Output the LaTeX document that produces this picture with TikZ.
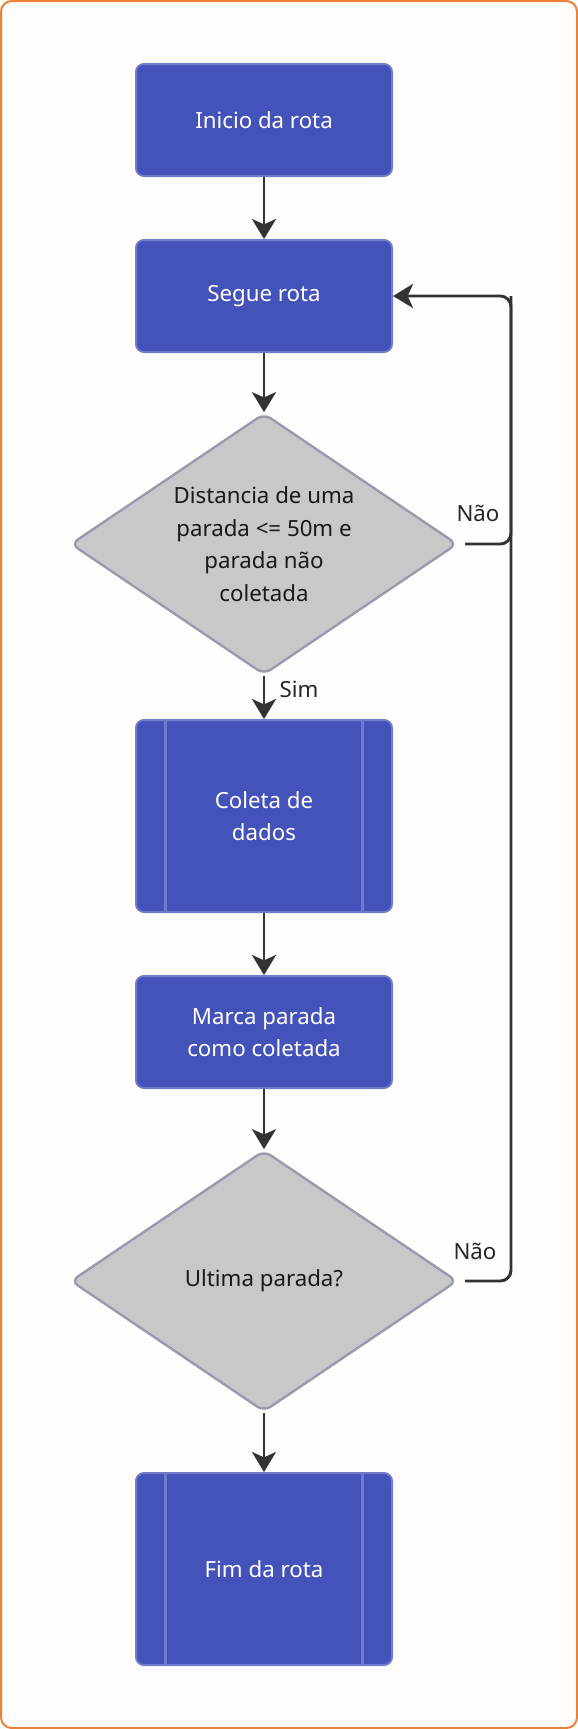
\documentclass[tikz,border=0pt]{standalone}
\usepackage{fontspec}
\setmainfont{Noto Sans}
\usetikzlibrary{arrows.meta,shapes.geometric,positioning}
\definecolor{boxfill}{HTML}{4453B9}
\definecolor{boxline}{HTML}{6F7BCB}
\definecolor{decfill}{HTML}{C8C8C8}
\definecolor{decline}{HTML}{9A9AAE}
\definecolor{flowline}{HTML}{333333}
\definecolor{frameline}{HTML}{E8823A}
\definecolor{framefill}{HTML}{FFFDFB}
\tikzset{>={Stealth[inset=4pt,length=15pt,width=18pt]}}
\tikzset{
    passo/.style={draw=boxline, fill=boxfill, line width=1.5pt, rounded corners=6pt,
        minimum width=192pt, minimum height=84pt, text=white, align=center,
        font=\fontsize{16.7}{24.5}\selectfont},
    subrotina/.style={passo, minimum height=144pt},
    decisao/.style={diamond, draw=decline, fill=decfill, line width=1.8pt, rounded corners=6pt,
        minimum width=290pt, minimum height=196pt, shape aspect=1.5, inner sep=0pt,
        align=center, text=black!90, font=\fontsize{16.7}{24.5}\selectfont},
    fluxo/.style={->, draw=flowline, line width=2.2pt},
    rotulo/.style={text=black!85, font=\fontsize{16.7}{20}\selectfont}
}

\begin{document}
\begin{tikzpicture}[x=0.75pt, y=-0.75pt]
    \useasboundingbox (0,0) rectangle (578,1729);
    \draw[frameline, fill=framefill, line width=1.5pt, rounded corners=8pt] (1,1) rectangle (577,1728);

    \node[passo] (inicio) at (264,120) {Inicio da rota};
    \node[passo] (segue) at (264,296) {Segue rota};
    \node[decisao] (perto) at (264,544) {Distancia de uma\\parada <= 50m e\\parada não\\coletada};
    \node[subrotina] (coleta) at (264,816) {Coleta de\\dados};
    \node[passo] (marca) at (264,1032) {Marca parada\\como coletada};
    \node[decisao] (ultima) at (264,1281) {Ultima parada?};
    \node[subrotina] (fim) at (264,1569) {Fim da rota};

    % barras laterais das subrotinas
    \foreach \n in {coleta,fim}{
        \draw[boxline, line width=1.8pt] ([xshift=23pt]\n.north west) -- ([xshift=23pt]\n.south west);
        \draw[boxline, line width=1.8pt] ([xshift=-23pt]\n.north east) -- ([xshift=-23pt]\n.south east);
    }

    \coordinate (retorno) at (511,296);

    \draw[fluxo] (inicio) -- (segue);
    \draw[fluxo] (segue) -- (perto);
    \draw[fluxo] (perto) -- (coleta);
    \draw[fluxo] (coleta) -- (marca);
    \draw[fluxo] (marca) -- (ultima);
    \draw[fluxo] (ultima) -- (fim);
    \draw[fluxo, rounded corners=8pt, shorten <=5pt] (perto.east) -| (retorno) -- (segue.east);
    \draw[flowline, line width=2.2pt, rounded corners=8pt, shorten <=5pt] (ultima.east) -| (retorno);

    \node[rotulo] (sim) at (299,689) {Sim};
    \node[rotulo] (nao1) at (478,513) {Não};
    \node[rotulo] (nao2) at (475,1251) {Não};
\end{tikzpicture}
\end{document}
